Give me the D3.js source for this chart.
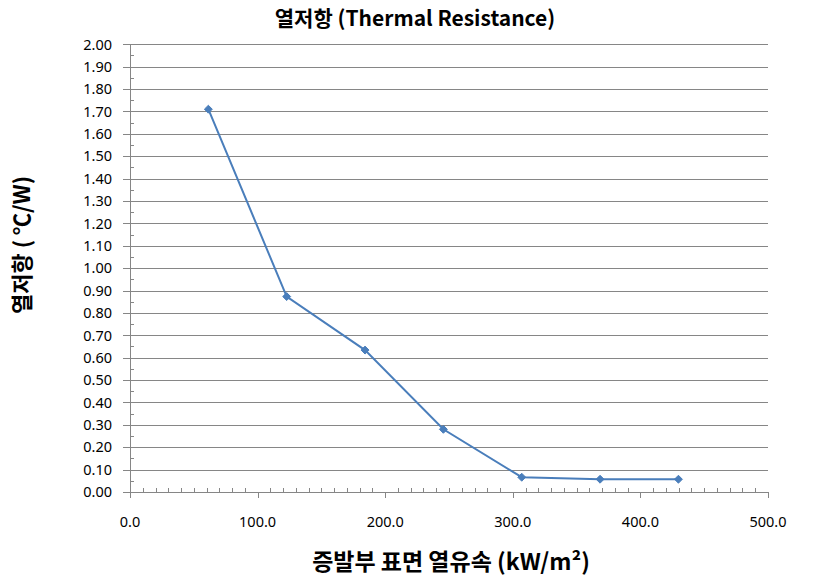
<!DOCTYPE html>
<html><head><meta charset="utf-8">
<script src="https://cdn.jsdelivr.net/npm/d3@7"></script>
<style>body{margin:0;background:#fff}</style>
</head><body>
<svg id="c" width="829" height="580"></svg>
<script>
const xValues = [61.4, 122.8, 184.2, 245.6, 307.0, 368.4, 429.8];
const yValues = [1.71, 0.873, 0.634, 0.280, 0.066, 0.057, 0.057];
const yTicks = d3.range(0, 2.0001, 0.1);
const xTicks = [0, 100, 200, 300, 400, 500];
const titleText = "열저항 (Thermal Resistance)";
const xTitle = "증발부 표면 열유속 (kW/m²)";
const yTitle = "열저항 ( ℃/W)";

const svg = d3.select("#c");
const L = 130, R = 768, T = 44.3, B = 492;
const x = d3.scaleLinear().domain([0, 500]).range([L, R]);
const y = d3.scaleLinear().domain([0, 2]).range([B, T]);
const grid = "#868686";
const font = "'Noto Sans', sans-serif";
const kfont = "'Noto Sans CJK KR', sans-serif";

// gridlines
svg.append("g").selectAll("line").data(yTicks).join("line")
  .attr("x1", L - 7).attr("x2", R)
  .attr("y1", d => Math.round(y(d)) + 0.5).attr("y2", d => Math.round(y(d)) + 0.5)
  .attr("stroke", grid).attr("stroke-width", 1);

// y minor ticks
const yMinor = d3.range(0.05, 2, 0.1);
svg.append("g").selectAll("line").data(yMinor).join("line")
  .attr("x1", L).attr("x2", L + 4)
  .attr("y1", d => Math.round(y(d)) + 0.5).attr("y2", d => Math.round(y(d)) + 0.5)
  .attr("stroke", grid);

// x minor ticks
const xMinor = d3.range(10, 500, 10).filter(d => d % 100 !== 0);
svg.append("g").selectAll("line").data(xMinor).join("line")
  .attr("x1", d => Math.round(x(d)) + 0.5).attr("x2", d => Math.round(x(d)) + 0.5)
  .attr("y1", B).attr("y2", B - 4)
  .attr("stroke", grid);

// y axis line
svg.append("line").attr("x1", Math.round(L)+0.5).attr("x2", Math.round(L)+0.5)
  .attr("y1", T).attr("y2", B + 6).attr("stroke", grid);
// x major ticks
svg.append("g").selectAll("line").data(xTicks).join("line")
  .attr("x1", d => Math.round(x(d)) + 0.5).attr("x2", d => Math.round(x(d)) + 0.5)
  .attr("y1", B).attr("y2", B + 6).attr("stroke", grid);

// y labels
svg.append("g").selectAll("text").data(yTicks).join("text")
  .attr("x", 112).attr("y", d => y(d))
  .attr("dy", "0.36em").attr("text-anchor", "end")
  .attr("font-family", font).attr("font-size", 14.5).attr("fill", "#000")
  .text(d => d3.format(".2f")(d));

// x labels
svg.append("g").selectAll("text").data(xTicks).join("text")
  .attr("x", d => x(d)).attr("y", 522)
  .attr("dy", "0.36em").attr("text-anchor", "middle")
  .attr("font-family", font).attr("font-size", 14.5).attr("fill", "#000")
  .text(d => d3.format(".1f")(d));

// line
const pts = xValues.map((v, i) => [v, yValues[i]]);
svg.append("path").datum(pts)
  .attr("d", d3.line().x(d => x(d[0])).y(d => y(d[1])))
  .attr("fill", "none").attr("stroke", "#4a7ebb").attr("stroke-width", 2);
svg.append("g").selectAll("path").data(pts).join("path")
  .attr("transform", d => `translate(${x(d[0])},${y(d[1])})`)
  .attr("d", d3.symbol(d3.symbolDiamond2, 40)())
  .attr("fill", "#4a7ebb").attr("stroke", "#4a7ebb").attr("stroke-width", 1);

// titles
svg.append("text").attr("x", 415).attr("y", 26).attr("text-anchor", "middle")
  .attr("font-family", kfont).attr("font-weight", "bold")
  .attr("font-size", 21).text(titleText);
svg.append("text").attr("x", 451).attr("y", 570).attr("text-anchor", "middle")
  .attr("font-family", kfont).attr("font-weight", "bold")
  .attr("font-size", 23).text(xTitle);
svg.append("text").attr("transform", "translate(30,245) rotate(-90)")
  .attr("text-anchor", "middle")
  .attr("font-family", kfont).attr("font-weight", "bold")
  .attr("font-size", 22).text(yTitle);
</script>
</body></html>
